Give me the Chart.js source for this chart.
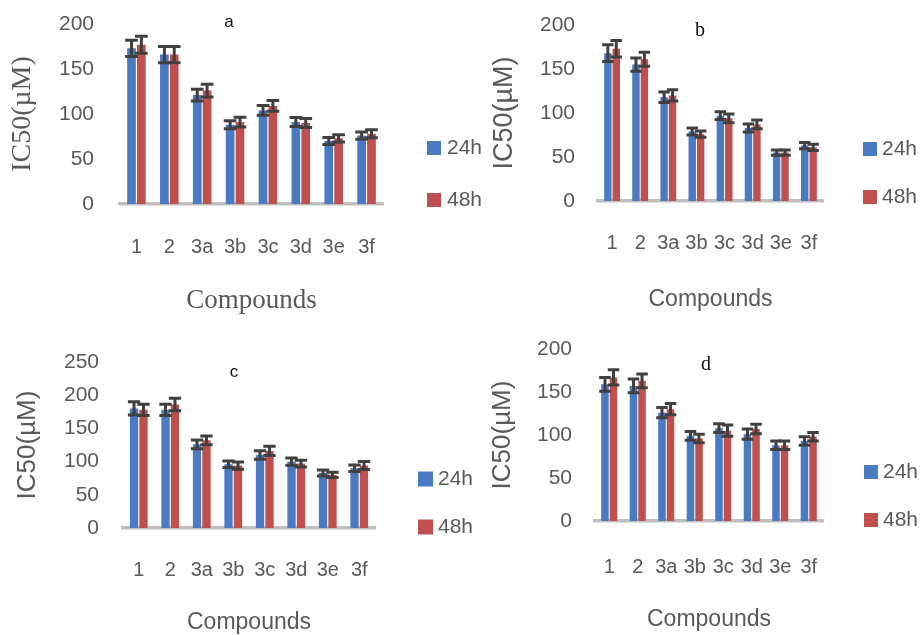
<!DOCTYPE html>
<html>
<head>
<meta charset="utf-8">
<script src="https://cdn.jsdelivr.net/npm/chart.js@4.4.1/dist/chart.umd.min.js"></script>
<style>
  html, body { margin: 0; padding: 0; background: #fff; }
  #wrap { position: relative; width: 921px; height: 635px; overflow: hidden; background: #fff; }
  canvas { position: absolute; }
</style>
</head>
<body>
<div id="wrap">
  <canvas id="panelA" width="490" height="320" style="left:0;top:0"></canvas>
  <canvas id="panelB" width="431" height="320" style="left:490px;top:0"></canvas>
  <canvas id="panelC" width="490" height="315" style="left:0;top:320px"></canvas>
  <canvas id="panelD" width="431" height="315" style="left:490px;top:320px"></canvas>
</div>
<script>
// Compounds tested and the two exposure times
const categories = ['1', '2', '3a', '3b', '3c', '3d', '3e', '3f'];
const seriesLabels = ['24h', '48h'];

// IC50 (µM) means and error half-widths, panel a
const a24 = [173, 166, 121, 88, 104, 91, 70, 76];
const a48 = [177, 166, 126, 91, 109, 90, 73, 78];
const aErr24 = [9, 9, 6.5, 4.5, 5.5, 5, 4, 4];
const aErr48 = [9.5, 9, 7, 5.5, 6, 5, 4, 4.5];

// panel b
const b24 = [168, 155, 118, 79, 97, 83, 55, 63];
const b48 = [173, 161, 120, 76, 94, 87, 55, 61];
const bErr24 = [9.5, 7.5, 6, 4, 4.5, 4.5, 3, 3.5];
const bErr48 = [9.5, 8, 6.5, 3.5, 5, 5, 3, 3.5];

// panel c
const c24 = [180, 178, 126, 96, 110, 100, 83, 90];
const c48 = [178, 186, 132, 94, 116, 97, 80, 94];
const cErr24 = [10, 8.5, 6.5, 5, 6.5, 5.5, 4.5, 5];
const cErr48 = [8.5, 9.5, 6.5, 5.5, 7, 5, 4, 6];

// panel d
const d24 = [159, 157, 126, 99, 108, 101, 88, 93];
const d48 = [167, 163, 130, 96, 105, 107, 88, 98];
const dErr24 = [8, 8, 6, 5, 5, 6, 5, 5];
const dErr48 = [9, 8, 6.5, 5, 6.5, 5.5, 5, 5];

// y-axis tick values
const ticks200 = [0, 50, 100, 150, 200];
const ticks250 = [0, 50, 100, 150, 200, 250];

const SANS = "'Liberation Sans', Arial, sans-serif";
const SERIF = "'Liberation Serif', 'Times New Roman', serif";
const TEXT = '#595959';
const BLUE = '#4A7AC2';
const RED = '#C0504D';

// Error bars with caps, placed through the value scale
const errorBars = {
  id: 'errorBars',
  afterDatasetsDraw(chart, args, o) {
    const ctx = chart.ctx;
    const y = chart.scales.y;
    ctx.save();
    ctx.strokeStyle = o.color;
    ctx.lineWidth = o.width;
    chart.data.datasets.forEach((ds, i) => {
      const meta = chart.getDatasetMeta(i);
      meta.data.forEach((bar, j) => {
        const v = ds.data[j], e = ds.errors[j];
        const top = y.getPixelForValue(v + e);
        const bot = y.getPixelForValue(v - e);
        const half = bar.width / 2 + o.capExtra;
        ctx.beginPath();
        ctx.moveTo(bar.x, top); ctx.lineTo(bar.x, bot);
        ctx.moveTo(bar.x - half, top); ctx.lineTo(bar.x + half, top);
        ctx.moveTo(bar.x - half, bot); ctx.lineTo(bar.x + half, bot);
        ctx.stroke();
      });
    });
    ctx.restore();
  }
};

// Legend stacked to the right of the plot
const sideLegend = {
  id: 'sideLegend',
  afterDraw(chart, args, o) {
    const ctx = chart.ctx;
    ctx.save();
    ctx.font = o.size + 'px ' + SANS;
    ctx.textBaseline = 'middle';
    ctx.textAlign = 'left';
    chart.data.datasets.forEach((ds, i) => {
      const cy = o.y + i * o.gap;
      ctx.fillStyle = ds.backgroundColor;
      ctx.fillRect(o.x, cy - o.box / 2, o.box, o.box);
      ctx.fillStyle = TEXT;
      ctx.fillText(ds.label, o.x + o.box + o.textGap, cy);
    });
    ctx.restore();
  }
};

// Small panel letter above the bars
const panelLetter = {
  id: 'panelLetter',
  afterDraw(chart, args, o) {
    const ctx = chart.ctx;
    ctx.save();
    ctx.font = o.font;
    ctx.fillStyle = '#111';
    ctx.textAlign = 'center';
    ctx.textBaseline = 'middle';
    ctx.fillText(o.text, o.x, o.y);
    ctx.restore();
  }
};

function makePanel(id, s24, s48, e24, e48, yTicks, L) {
  new Chart(document.getElementById(id), {
    type: 'bar',
    data: {
      labels: categories,
      datasets: [
        { label: seriesLabels[0], data: s24, errors: e24, backgroundColor: BLUE },
        { label: seriesLabels[1], data: s48, errors: e48, backgroundColor: RED }
      ]
    },
    plugins: [errorBars, sideLegend, panelLetter],
    options: {
      responsive: false,
      animation: false,
      devicePixelRatio: 1,
      layout: { padding: { left: 0, top: L.top, right: L.right, bottom: 0 } },
      datasets: { bar: { categoryPercentage: 0.6, barPercentage: 0.88 } },
      plugins: {
        legend: { display: false },
        tooltip: { enabled: false },
        errorBars: { color: '#404040', width: 3, capExtra: 2 },
        sideLegend: L.legend,
        panelLetter: L.letter
      },
      scales: {
        x: {
          grid: { display: false, drawTicks: false },
          border: { display: true, color: '#BFBFBF', width: 3.5 },
          ticks: { color: TEXT, font: { family: SANS, size: 20 }, padding: L.xTickPad, maxRotation: 0, autoSkip: false },
          title: { display: true, text: 'Compounds', color: TEXT, font: L.xTitleFont, padding: { top: 0, bottom: L.xTitlePad } },
          afterFit(s) { s.height = L.xHeight; }
        },
        y: {
          min: yTicks[0],
          max: yTicks[yTicks.length - 1],
          afterBuildTicks(s) { s.ticks = yTicks.map(v => ({ value: v })); },
          grid: { display: false, drawTicks: false },
          border: { display: false },
          ticks: { color: TEXT, font: { family: SANS, size: 21 }, padding: L.yTickPad },
          title: { display: true, text: 'IC50(µM)', color: TEXT, font: L.yTitleFont, padding: { top: L.yTitlePad, bottom: 0 } },
          afterFit(s) {
            s.width = L.yWidth;
            // the layout padding already leaves room for the end labels
            s.paddingTop = 0;
            s.paddingBottom = 0;
          }
        }
      }
    }
  });
}

makePanel('panelA', a24, a48, aErr24, aErr48, ticks200, {
  top: 24, right: 107, yWidth: 120, xHeight: 116,
  yTickPad: 26, xTickPad: 31,
  yTitleFont: { family: SERIF, size: 28, lineHeight: 1 }, yTitlePad: 9,
  xTitleFont: { family: SERIF, size: 27, lineHeight: 1 }, xTitlePad: 5.5,
  legend: { x: 427, y: 148, gap: 52, box: 14, textGap: 6, size: 21 },
  letter: { text: 'a', x: 229, y: 22, font: '17px ' + SANS }
});

makePanel('panelB', b24, b48, bErr24, bErr48, ticks200, {
  top: 25, right: 98, yWidth: 108, xHeight: 119,
  yTickPad: 23, xTickPad: 30,
  yTitleFont: { family: SANS, size: 27, lineHeight: 1 }, yTitlePad: 1.5,
  xTitleFont: { family: SANS, size: 23, lineHeight: 1 }, xTitlePad: 8.5,
  legend: { x: 373, y: 149, gap: 48, box: 14, textGap: 5, size: 21 },
  letter: { text: 'b', x: 210, y: 31, font: '20px ' + SERIF }
});

makePanel('panelC', c24, c48, cErr24, cErr48, ticks250, {
  top: 42, right: 115, yWidth: 123, xHeight: 107,
  yTickPad: 24, xTickPad: 30,
  yTitleFont: { family: SANS, size: 26, lineHeight: 1 }, yTitlePad: 15,
  xTitleFont: { family: SANS, size: 23, lineHeight: 1 }, xTitlePad: 0.5,
  legend: { x: 418, y: 159, gap: 48, box: 15, textGap: 5, size: 21 },
  letter: { text: 'c', x: 234, y: 52, font: '17px ' + SANS }
});

makePanel('panelD', d24, d48, dErr24, dErr48, ticks200, {
  top: 29, right: 98, yWidth: 105, xHeight: 114,
  yTickPad: 23, xTickPad: 34,
  yTitleFont: { family: SANS, size: 26, lineHeight: 1 }, yTitlePad: 0,
  xTitleFont: { family: SANS, size: 23, lineHeight: 1 }, xTitlePad: 3.5,
  legend: { x: 374, y: 152, gap: 48, box: 14, textGap: 5, size: 21 },
  letter: { text: 'd', x: 216, y: 45, font: '20px ' + SERIF }
});
</script>
</body>
</html>
